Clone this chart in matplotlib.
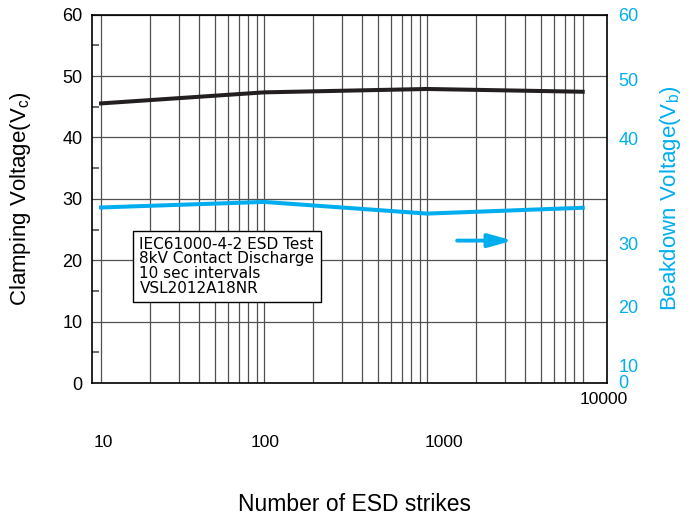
import matplotlib
matplotlib.use("Agg")
import matplotlib.pyplot as plt
from matplotlib.ticker import FixedLocator, NullFormatter
from matplotlib.transforms import ScaledTranslation

# data
strikes = [10, 100, 1000, 9000]
clamping = [45.55, 47.35, 47.9, 47.45]
breakdown = [28.6, 29.5, 27.6, 28.55]

x_ticks = [10, 100, 1000, 10000]
x_labels = ['10', '100', '1000', '10000']
left_ticks = [0, 10, 20, 30, 40, 50, 60]
minor_y = [5, 15, 25, 35, 45, 55]
# right axis labels sit at odd heights in the original
right_pos = [0.3, 2.8, 12.5, 22.8, 39.9, 49.5, 60]
right_labels = ['0', '10', '20', '30', '40', '50', '60']

note = "IEC61000-4-2 ESD Test\n8kV Contact Discharge\n10 sec intervals\nVSL2012A18NR"
arrow_from = (1528, 23.2)
arrow_to = (3360, 23.2)

BLUE = '#00aeef'
BLACK = '#231f20'
GRID = '#505050'

plt.rcParams['font.family'] = ['Liberation Sans', 'DejaVu Sans']
plt.rcParams['mathtext.default'] = 'regular'

fig = plt.figure(figsize=(6.97, 5.18), dpi=100)
ax = fig.add_axes([0.132, 0.2606, 0.739, 0.711])

ax.set_xscale('log')
ax.set_xlim(8.8, 12700)
ax.set_ylim(0, 60)

ax.plot(strikes, clamping, color=BLACK, lw=2.9, zorder=3)
ax.plot(strikes, breakdown, color=BLUE, lw=2.9, zorder=3)

# grid
ax.set_xticks(x_ticks)
ax.set_xticklabels(x_labels, fontsize=12.5)
ax.xaxis.set_minor_locator(FixedLocator([m * d for d in (10, 100, 1000) for m in range(2, 10)]))
ax.xaxis.set_minor_formatter(NullFormatter())
ax.grid(True, which='major', axis='both', color=GRID, lw=0.9)
ax.grid(True, which='minor', axis='x', color=GRID, lw=0.9)
ax.tick_params(axis='x', which='both', length=0)

ax.set_yticks(left_ticks)
ax.tick_params(axis='y', which='major', length=0, labelsize=13, pad=7)
ax.yaxis.set_minor_locator(FixedLocator(minor_y))
ax.tick_params(axis='y', which='minor', direction='in', length=5, width=1.2,
               color=GRID, left=True, right=True)

for sp in ax.spines.values():
    sp.set_color('black')
    sp.set_linewidth(1.2)

# odd placement of the x tick labels
ticks = ax.xaxis.get_major_ticks()
pads = [37.2, 37.2, 37.2, 6.3]
shifts = [2.7, 1.5, 17, 14]
for t, p, s in zip(ticks, pads, shifts):
    t.set_pad(p)
    t.label1.set_transform(t.label1.get_transform()
                           + ScaledTranslation(s / 100, 0, fig.dpi_scale_trans))
ticks[-1].gridline.set_visible(False)

ax2 = ax.twinx()
ax2.set_ylim(0, 60)
ax2.set_yticks(right_pos)
ax2.set_yticklabels(right_labels)
ax2.tick_params(axis='y', length=0, labelsize=13, pad=8, labelcolor=BLUE)
for sp in ax2.spines.values():
    sp.set_visible(False)

ax.set_xlabel('Number of ESD strikes', fontsize=16.5)
ax.xaxis.set_label_coords(0.51, -0.298)
ax.set_ylabel('Clamping Voltage(V$_c$)', fontsize=16)
ax.yaxis.set_label_coords(-0.115, 0.5)
ax2.set_ylabel('Beakdown Voltage(V$_b$)', fontsize=16, color=BLUE)
ax2.yaxis.set_label_coords(1.099, 0.502)

ax.text(0.092, 0.397, note, transform=ax.transAxes, fontsize=11,
        family='DejaVu Sans', va='top', ha='left', linespacing=0.97, zorder=4,
        bbox=dict(boxstyle='square,pad=0.4', fc='white', ec='black', lw=1.0))

ax.annotate('', xy=arrow_to, xytext=arrow_from,
            arrowprops=dict(arrowstyle='-|>,head_length=1.45,head_width=0.4',
                            color=BLUE, lw=2.8, mutation_scale=10,
                            shrinkA=0, shrinkB=0), zorder=4)

fig.savefig('out.png', dpi=100)
